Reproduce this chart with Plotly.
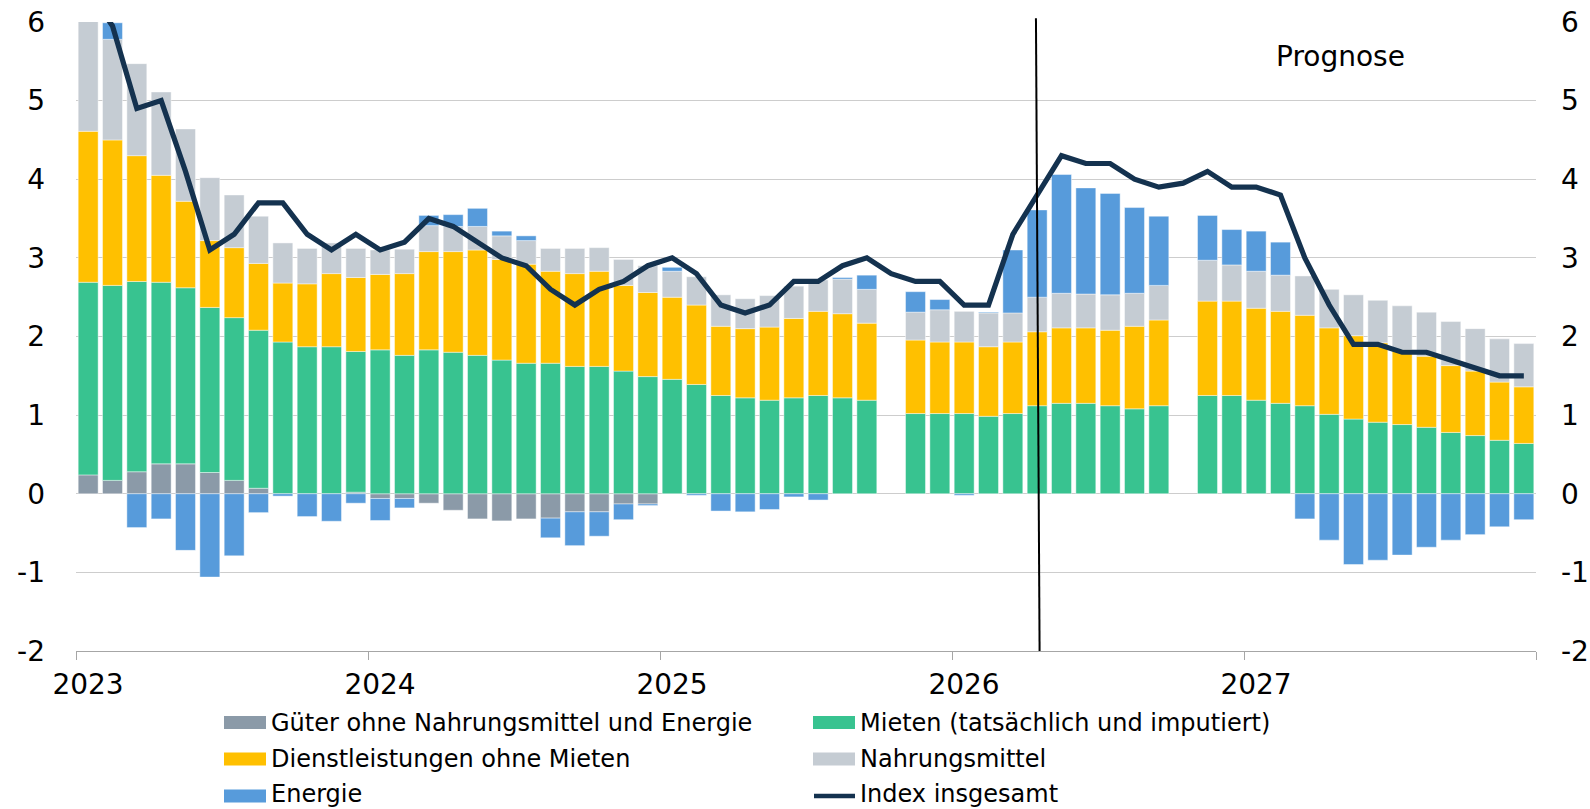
import plotly.graph_objects as go

# Monthly data Jan 2023 .. Dec 2027 (60 months); None = no bar
months = list(range(60))
year_ticks = ["2023", "2024", "2025", "2026", "2027", ""]
y_ticks = [-2, -1, 0, 1, 2, 3, 4, 5, 6]
y_tick_labels = ["-2", "-1", "0", "1", "2", "3", "4", "5", "6"]

goods = [0.24, 0.17, 0.28, 0.38, 0.38, 0.27, 0.17, 0.07, 0.0, 0.0, 0.0, 0.02,
         -0.06, -0.06, -0.12, -0.21, -0.32, -0.345, -0.32, -0.31, -0.23, -0.23, -0.13, -0.13,
         0, 0, 0, 0, 0, 0, 0, 0, 0, None, 0, 0,
         0, 0, 0, 0, 0, 0, 0, 0, 0, None, 0, 0,
         0, 0, 0, 0, 0, 0, 0, 0, 0, 0, 0, 0]
rents = [2.45, 2.48, 2.42, 2.31, 2.24, 2.10, 2.07, 2.01, 1.93, 1.87, 1.87, 1.79,
         1.83, 1.76, 1.83, 1.80, 1.76, 1.70, 1.66, 1.66, 1.62, 1.62, 1.56, 1.49,
         1.455, 1.39, 1.25, 1.22, 1.19, 1.22, 1.25, 1.22, 1.19, None, 1.02, 1.02,
         1.02, 0.985, 1.02, 1.12, 1.15, 1.15, 1.12, 1.08, 1.12, None, 1.25, 1.25,
         1.19, 1.15, 1.12, 1.01, 0.95, 0.91, 0.88, 0.845, 0.78, 0.74, 0.68, 0.64]
services = [1.92, 1.85, 1.60, 1.36, 1.10, 0.85, 0.89, 0.85, 0.75, 0.80, 0.93, 0.94,
            0.96, 1.04, 1.25, 1.28, 1.34, 1.28, 1.26, 1.17, 1.18, 1.21, 1.09, 1.07,
            1.045, 1.01, 0.88, 0.88, 0.93, 1.01, 1.07, 1.07, 0.98, None, 0.935, 0.91,
            0.91, 0.885, 0.91, 0.94, 0.96, 0.96, 0.96, 1.05, 1.09, None, 1.20, 1.20,
            1.17, 1.17, 1.15, 1.10, 1.06, 1.01, 0.95, 0.905, 0.85, 0.82, 0.74, 0.72]
food = [1.45, 1.28, 1.17, 1.06, 0.92, 0.80, 0.67, 0.60, 0.51, 0.45, 0.39, 0.37,
        0.31, 0.31, 0.33, 0.32, 0.30, 0.30, 0.30, 0.29, 0.32, 0.30, 0.33, 0.34,
        0.33, 0.36, 0.40, 0.38, 0.40, 0.41, 0.40, 0.44, 0.43, None, 0.355, 0.41,
        0.39, 0.43, 0.37, 0.44, 0.44, 0.43, 0.45, 0.42, 0.44, None, 0.52, 0.46,
        0.47, 0.46, 0.50, 0.49, 0.52, 0.54, 0.56, 0.56, 0.56, 0.54, 0.55, 0.55]
energy = [0.30, 0.21, -0.43, -0.32, -0.72, -1.06, -0.79, -0.24, -0.03, -0.29, -0.35, -0.12,
          -0.28, -0.12, 0.13, 0.15, 0.23, 0.06, 0.06, -0.25, -0.43, -0.31, -0.20, -0.02,
          0.05, -0.02, -0.22, -0.23, -0.20, -0.04, -0.08, 0.02, 0.18, None, 0.26, 0.13,
          -0.02, 0.01, 0.80, 1.11, 1.51, 1.35, 1.29, 1.09, 0.88, None, 0.57, 0.45,
          0.51, 0.42, -0.32, -0.59, -0.90, -0.845, -0.78, -0.68, -0.59, -0.52, -0.42, -0.33]
index_total = [6.4, 5.95, 4.9, 5.0, 4.1, 3.1, 3.3, 3.7, 3.7, 3.3, 3.1, 3.3,
               3.1, 3.2, 3.5, 3.4, 3.2, 3.0, 2.9, 2.6, 2.4, 2.6, 2.7, 2.9,
               3.0, 2.8, 2.4, 2.3, 2.4, 2.7, 2.7, 2.9, 3.0, 2.8, 2.7, 2.7,
               2.4, 2.4, 3.3, 3.8, 4.3, 4.2, 4.2, 4.0, 3.9, 3.95, 4.1, 3.9,
               3.9, 3.8, 3.0, 2.4, 1.9, 1.9, 1.8, 1.8, 1.7, 1.6, 1.5, 1.5]

series = [
    ("Güter ohne Nahrungsmittel und Energie", goods, "#8B9AA8"),
    ("Mieten (tatsächlich und imputiert)", rents, "#38C390"),
    ("Dienstleistungen ohne Mieten", services, "#FFC000"),
    ("Nahrungsmittel", food, "#C5CCD3"),
    ("Energie", energy, "#579BDB"),
]
line_name = "Index insgesamt"
line_color = "#14324F"
forecast_label = "Prognose"
forecast_x = 39.5

FONT = "DejaVu Sans"
xpos = [m + 0.5 for m in months]

fig = go.Figure()
for name, vals, col in series:
    fig.add_trace(go.Bar(x=xpos, y=vals, name=name, width=0.82,
                         marker=dict(color=col, line=dict(color="rgba(255,255,255,0.55)", width=0.8)),
                         showlegend=False))
fig.add_trace(go.Scatter(x=xpos, y=index_total, name=line_name, mode="lines",
                         line=dict(color=line_color, width=5.2), showlegend=False))
fig.add_trace(go.Scatter(x=[0.5], y=[0], yaxis="y2", mode="markers",
                         marker=dict(opacity=0), showlegend=False, hoverinfo="skip"))

W, H = 1590, 809
ML, MR, MT, MB = 76, 54, 22, 158
PW, PH = W - ML - MR, H - MT - MB

def px2paper_x(px):
    return (px - ML) / PW

def px2paper_y(py):
    return (H - MB - py) / PH

shapes = []
annotations = []
# forecast divider
shapes.append(dict(type="line", xref="x", yref="paper", x0=forecast_x - 0.05, x1=forecast_x + 0.1,
                   y0=1.006, y1=0, line=dict(color="black", width=2), layer="above"))
annotations.append(dict(text=forecast_label, xref="paper", yref="paper",
                        x=px2paper_x(1340), y=px2paper_y(56), xanchor="center", yanchor="middle",
                        showarrow=False, font=dict(family=FONT, size=28, color="black")))

# custom legend (2 columns x 3 rows)
legend_items = [(s[0], s[2], "bar") for s in series] + [(line_name, line_color, "line")]
col_sw = [224, 813]
col_tx = [269, 858]
row_y = [722.5, 759, 794]
for i, (name, col, kind) in enumerate(legend_items):
    c, r = i % 2, i // 2
    yc = row_y[r]
    sy = yc + (2 if r == 2 else 0)
    if kind == "bar":
        shapes.append(dict(type="rect", xref="paper", yref="paper",
                           x0=px2paper_x(col_sw[c]), x1=px2paper_x(col_sw[c] + 42),
                           y0=px2paper_y(sy - 6.5), y1=px2paper_y(sy + 6.5),
                           fillcolor=col, line=dict(width=0)))
    else:
        shapes.append(dict(type="line", xref="paper", yref="paper",
                           x0=px2paper_x(col_sw[c] + 1), x1=px2paper_x(col_sw[c] + 42),
                           y0=px2paper_y(sy), y1=px2paper_y(sy),
                           line=dict(color=col, width=4.5)))
    annotations.append(dict(text=name, xref="paper", yref="paper",
                            x=px2paper_x(col_tx[c]), y=px2paper_y(yc), xanchor="left", yanchor="middle",
                            showarrow=False, font=dict(family=FONT, size=24, color="black")))

fig.update_layout(
    width=W, height=H,
    margin=dict(l=ML, r=MR, t=MT, b=MB, pad=0, autoexpand=False),
    barmode="relative",
    bargap=0.18,
    plot_bgcolor="white", paper_bgcolor="white",
    font=dict(family=FONT, size=28, color="black"),
    showlegend=False,
    shapes=shapes,
    annotations=annotations,
    xaxis=dict(range=[0, 60], tickmode="array", tickvals=[0, 12, 24, 36, 48, 60], ticktext=year_ticks,
               showgrid=False, zeroline=False, showline=True, linecolor="#A6A6A6", linewidth=1.3,
               ticks="outside", ticklen=8, tickwidth=1.3, tickcolor="#A6A6A6", automargin=False,
               ticklabelshift=12, tickfont=dict(family=FONT, size=28, color="black")),
    yaxis=dict(range=[-2, 6], tickmode="array", tickvals=y_ticks, ticktext=y_tick_labels, showgrid=True,
               gridcolor="#CDCDCD", gridwidth=1.3, zeroline=False, showline=False, ticks="",
               automargin=False,
               ticklabelstandoff=30, tickfont=dict(family=FONT, size=28, color="black")),
    yaxis2=dict(range=[-2, 6], overlaying="y", side="right", tickmode="array", tickvals=y_ticks,
                ticktext=y_tick_labels, automargin=False,
                showgrid=False, zeroline=False, showline=False, ticks="",
                ticklabelstandoff=24, tickfont=dict(family=FONT, size=28, color="black")),
)

fig.write_html("out.html", config={"displayModeBar": False},
               post_script="document.body.style.margin='0';document.body.style.overflow='hidden';")
